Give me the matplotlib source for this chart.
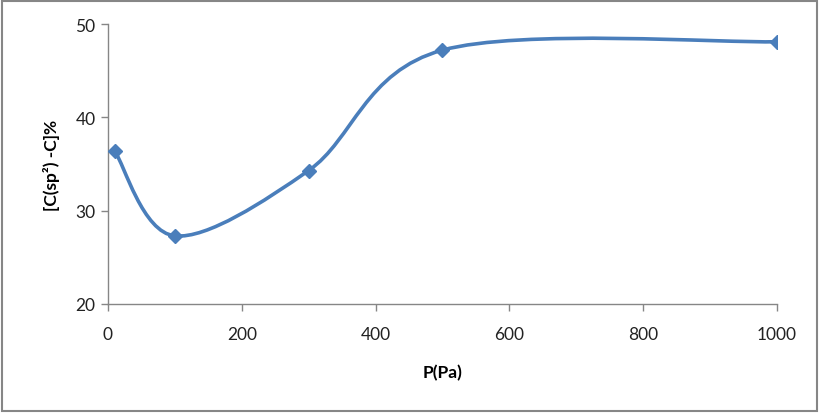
import matplotlib
matplotlib.use('Agg')
import matplotlib.pyplot as plt
from matplotlib.path import Path
from matplotlib.patches import PathPatch, Rectangle

pressure = [10, 100, 300, 500, 1000]
sp2_content = [36.4, 27.3, 34.3, 47.2, 48.1]
x_ticks = [0, 200, 400, 600, 800, 1000]
y_ticks = [20, 30, 40, 50]

plt.rcParams['font.family'] = ['Lato', 'DejaVu Sans']

line_color = '#4A7EBB'
axis_color = '#868686'

fig = plt.figure(figsize=(8.23, 4.14), dpi=100)
ax = fig.add_axes([0.1312, 0.2633, 0.8128, 0.6763])

# Excel-style smoothed line: cubic Bezier segments through the points
pts = list(zip(pressure, sp2_content))
verts = [pts[0]]
codes = [Path.MOVETO]
for i in range(len(pts) - 1):
    p0 = pts[max(i - 1, 0)]
    p1 = pts[i]
    p2 = pts[i + 1]
    p3 = pts[min(i + 2, len(pts) - 1)]
    c1 = (p1[0] + (p2[0] - p0[0]) / 6, p1[1] + (p2[1] - p0[1]) / 6)
    c2 = (p2[0] - (p3[0] - p1[0]) / 6, p2[1] - (p3[1] - p1[1]) / 6)
    verts += [c1, c2, p2]
    codes += [Path.CURVE4] * 3
ax.add_patch(PathPatch(Path(verts, codes), facecolor='none', edgecolor=line_color,
                       lw=2.6, capstyle='round', joinstyle='round'))
ax.plot(pressure, sp2_content, linestyle='none', marker='D', markersize=7.5,
        color=line_color, zorder=3)

ax.set_xlim(0, 1000)
ax.set_ylim(20, 50)
ax.set_xticks(x_ticks)
ax.set_yticks(y_ticks)

for side in ['top', 'right']:
    ax.spines[side].set_visible(False)
for side in ['left', 'bottom']:
    ax.spines[side].set_color(axis_color)
    ax.spines[side].set_linewidth(1.0)
ax.tick_params(axis='both', direction='out', length=5, width=1.0, color=axis_color,
               labelsize=12.5, labelcolor='#222222')
ax.tick_params(axis='x', pad=11)
ax.tick_params(axis='y', pad=4)

ax.set_xlabel('P(Pa)', fontsize=12.5, fontweight='bold', labelpad=16)
ax.set_ylabel('[C(sp²) -C]%', fontsize=12.5, fontweight='bold', labelpad=11)

fig.patches.append(Rectangle((0.003, 0.005), 0.990, 0.99, transform=fig.transFigure,
                             fill=False, edgecolor=axis_color, lw=1.5))

fig.savefig('out.png', dpi=100)
